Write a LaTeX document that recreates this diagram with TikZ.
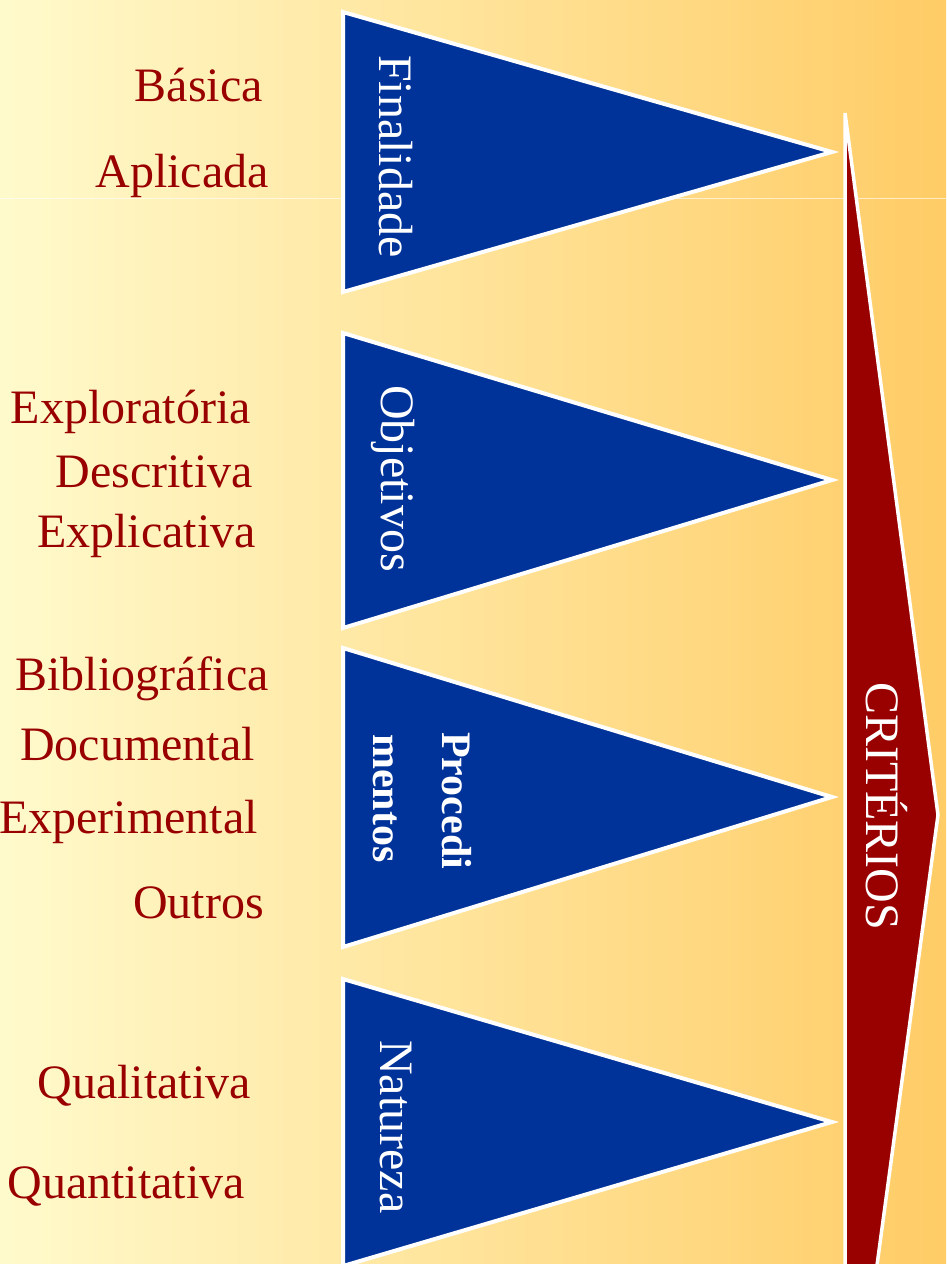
\documentclass[tikz,border=0pt]{standalone}
\usepackage{fontspec}
\setmainfont{Liberation Serif}
\definecolor{bgL}{HTML}{FFFACC}
\definecolor{bgR}{HTML}{FFCC66}
\definecolor{triblue}{HTML}{003399}
\definecolor{darkred}{HTML}{990000}
\begin{document}
\begin{tikzpicture}[x=1pt,y=-1pt,
  lbl/.style={anchor=base east, inner sep=0pt, text=darkred, font=\fontsize{48}{56}\selectfont},
  vlbl/.style={anchor=base west, inner sep=0pt, rotate=-90, text=white, font=\fontsize{48}{56}\selectfont},
  vbold/.style={anchor=base west, inner sep=0pt, rotate=-90, text=white, font=\fontsize{42}{50}\selectfont\bfseries},
  tri/.style={fill=triblue, draw=white, line width=4pt, line join=miter},
  arr/.style={fill=darkred, draw=white, line width=3.5pt, line join=miter}]
\useasboundingbox (0,0) rectangle (946,1264);
\clip (0,0) rectangle (946,1264);
\shade[left color=bgL, right color=bgR] (0,0) rectangle (946,1264);
\draw[white, opacity=0.6, line width=1pt] (0,198) -- (946,198);

% criteria arrow
\coordinate (rt) at (845,113);
\coordinate (rp) at (938,815);
\coordinate (rb) at (875,1280);
\coordinate (lb) at (845,1280);
\draw[arr] (rt) -- (rp) -- (rb) -- (lb) -- cycle;

% blue triangles
\draw[tri] (343,12) -- (832,152) -- (343,292) -- cycle;
\draw[tri] (343,333) -- (832,480) -- (343,628) -- cycle;
\draw[tri] (343,648) -- (832,797) -- (343,947) -- cycle;
\draw[tri] (343,979) -- (832,1122) -- (343,1266) -- cycle;

% labels
\node[lbl] (basica) at (263,101) {Básica};
\node[lbl] (aplicada) at (269,187) {Aplicada};
\node[lbl] (explor) at (251,423) {Exploratória};
\node[lbl] (descr) at (253,487) {Descritiva};
\node[lbl] (expli) at (256,547) {Explicativa};
\node[lbl] (biblio) at (269,690) {Bibliográfica};
\node[lbl] (docum) at (255,760) {Documental};
\node[lbl] (exper) at (258,833) {Experimental};
\node[lbl] (outros) at (264,918) {Outros};
\node[lbl] (quali) at (251,1098) {Qualitativa};
\node[lbl] (quanti) at (245,1198) {Quantitativa};

% vertical labels
\node[vlbl] (final) at (379,55) {Finalidade};
\node[vlbl] (objet) at (381,385) {Objetivos};
\node[vbold] (proc1) at (442,732) {Procedi};
\node[vbold] (proc2) at (373,734) {mentos};
\node[vlbl] (natur) at (380,1040) {Natureza};
\node[vlbl] (crit) at (866,682) {CRITÉRIOS};
\end{tikzpicture}
\end{document}
